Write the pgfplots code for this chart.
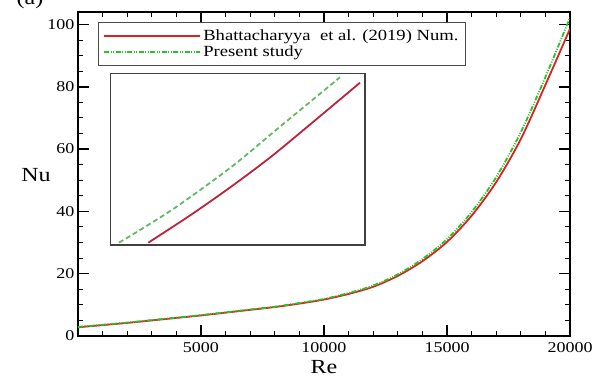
\documentclass[border=0pt]{standalone}
\usepackage{fontspec}
\setmainfont{Liberation Serif}[FakeStretch=1.2]
\usepackage{pgfplots}
\pgfplotsset{compat=1.18}
\definecolor{redc}{RGB}{215,35,35}
\definecolor{greenc}{RGB}{40,195,40}
\definecolor{inred}{RGB}{190,35,60}
\definecolor{ingreen}{RGB}{100,185,100}
\begin{document}
\begin{tikzpicture}
\begin{axis}[
  at={(0pt,0pt)}, anchor=south west,
  scale only axis, width=492pt, height=324pt,
  xmin=0, xmax=20000, ymin=0, ymax=104,
  xtick={5000,10000,15000,20000},
  minor xtick={0,1000,...,20000},
  ytick={0,20,...,100},
  minor ytick={0,5,...,100},
  scaled x ticks=false, scaled y ticks=false,
  tick align=inside,
  major tick length=11pt, minor tick length=5pt,
  axis line style={line width=1.6pt},
  major tick style={black, line width=1.5pt},
  minor tick style={black, line width=1pt},
  /pgf/number format/assume math mode=true,
  /pgf/number format/1000 sep={},
  tick label style={font=\fontsize{15}{15}\selectfont},
  xticklabel style={yshift=-3pt},
  xlabel={Re}, ylabel={Nu},
  label style={font=\fontsize{20}{20}\selectfont},
  ylabel style={rotate=-90, anchor=center, at={(axis description cs:-0.0854,0.497)}},
  xlabel style={anchor=base, at={(axis description cs:0.5,-0.116)}},
  legend style={at={(axis description cs:0.0407,0.969)}, anchor=north west,
    draw=gray!60!black, line width=1pt, font=\fontsize{15.5}{15.5}\selectfont,
    cells={anchor=west}, inner xsep=5pt, inner ysep=5pt, row sep=0pt},
  legend image code/.code={\draw[#1] (0pt,0pt) -- (85pt,0pt); \path (0pt,0pt) -- (96pt,0pt);},
]
\addplot[redc, line width=1.8pt, smooth] coordinates {
(0,2.8) (1000,3.5) (2000,4.2) (3000,5.0) (4000,5.8) (5000,6.6) (6000,7.5)
(7000,8.4) (8000,9.3) (9000,10.4) (10000,11.7) (11000,13.5) (12000,15.8)
(13000,19.3) (14000,24.0) (15000,30.2) (16000,38.6) (17000,49.4) (18000,63.2)
(19000,80.6) (20000,98.6)};
\addlegendentry{Bhattacharyya\ \ et al. (2019) Num.}
\addplot[greenc, line width=1.8pt, smooth, dash pattern=on 5pt off 1.5pt on 1pt off 1.5pt on 1pt off 1.5pt] coordinates {
(0,2.9) (1000,3.6) (2000,4.3) (3000,5.1) (4000,5.9) (5000,6.7) (6000,7.6)
(7000,8.5) (8000,9.4) (9000,10.6) (10000,11.9) (11000,13.8) (12000,16.2)
(13000,19.8) (14000,24.7) (15000,31.1) (16000,39.8) (17000,51.0) (18000,65.4)
(19000,83.1) (20000,102.2)};
\addlegendentry{Present study}
\end{axis}
\begin{axis}[
  at={(32.7pt,91pt)}, anchor=south west,
  scale only axis, width=254.3pt, height=171.7pt,
  xmin=0, xmax=254.3, ymin=0, ymax=171.7,
  ticks=none,
  axis line style={gray!50!black, line width=1.2pt},
  axis background/.style={fill=white},
]
\addplot[inred, line width=1.8pt, smooth] coordinates {
(37.6,2.3) (80,30) (120,58) (160,88) (200,121) (249.3,162.3)};
\addplot[ingreen, line width=1.8pt, smooth, dash pattern=on 5pt off 3pt] coordinates {
(8.3,2.3) (61,35) (121,78.3) (169.3,118.3) (229.3,167.7)};
\end{axis}
\node[anchor=base, font=\fontsize{20}{20}\selectfont] at (-48pt,331pt) {(a)};
\pgfresetboundingbox
\path[use as bounding box] (-78pt,-41pt) rectangle (517pt,336pt);
\end{tikzpicture}
\end{document}
